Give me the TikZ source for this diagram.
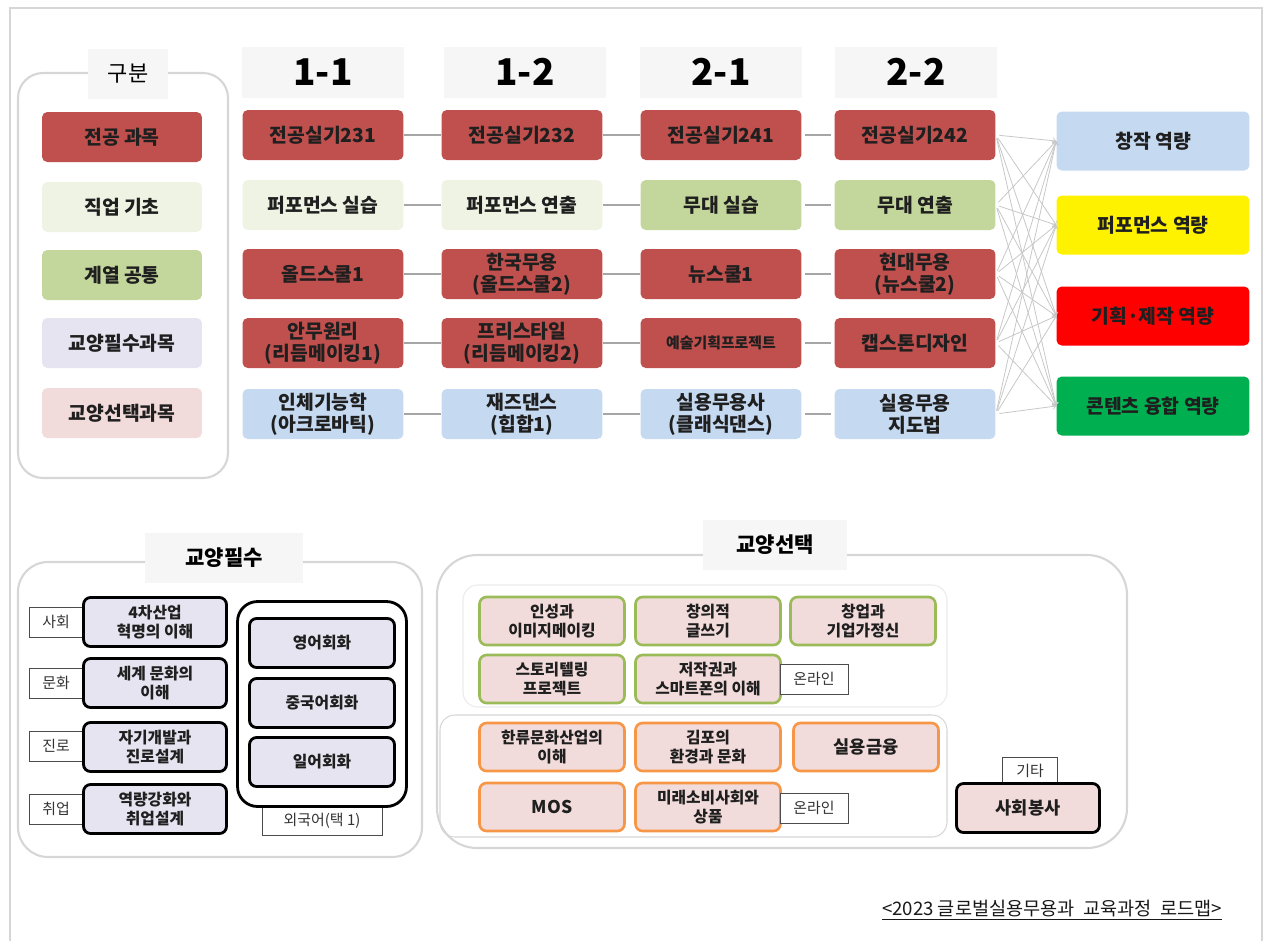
\documentclass[tikz,border=0pt]{standalone}
\usepackage{fontspec}
\setmainfont{Noto Sans CJK KR}
\usetikzlibrary{arrows}
\definecolor{majred}{HTML}{C0504D}
\definecolor{jobcr}{HTML}{EFF3E3}
\definecolor{sergr}{HTML}{C3D69B}
\definecolor{reqpu}{HTML}{E6E4F0}
\definecolor{selpk}{HTML}{F2DCDB}
\definecolor{pracbl}{HTML}{C5D9F1}
\definecolor{ttlbg}{HTML}{F6F6F6}
\definecolor{frmgr}{HTML}{D6D6D6}
\definecolor{lngr}{HTML}{A6A6A6}
\definecolor{olgr}{HTML}{9BBB59}
\definecolor{olor}{HTML}{F79646}
\definecolor{cmpgr}{HTML}{00B050}
\newcommand{\fsz}[1]{\fontsize{#1}{#1}\selectfont}
\tikzset{
  crsnode/.style = {align=center, inner sep=2pt, rounded corners=3pt,
    text=black!88, font=\bfseries\fontsize{11}{12.5}\selectfont},
  crs_r/.style = {crsnode, fill=majred, minimum width=3.22cm, minimum height=1cm},% 전공
  crs_j/.style = {crs_r, fill=jobcr},% 직업 기초
  crs_g/.style = {crs_r, fill=sergr},% 계열 공통
  crs_b/.style = {crs_r, fill=pracbl},
  lg_box/.style = {crsnode, minimum width=3.2cm, minimum height=1cm},
  hd_box/.style = {align=center, fill=ttlbg, minimum width=3.24cm, minimum height=1.02cm,
    font=\bfseries\fsz{21}},
  ttl_box/.style = {align=center, fill=ttlbg, minimum height=1cm, font=\bfseries\fsz{12}},
  cmp_box/.style = {crsnode, minimum width=3.86cm, minimum height=1.18cm},
  grp_frm/.style = {draw=frmgr, line width=1.2pt},
  lnk/.style = {draw=lngr, line width=1pt, shorten <=2pt, shorten >=2pt},
  cmp_ln/.style = {->, draw=black!22, line width=0.45pt, shorten <=2pt},
  tag/.style = {draw=black!70, fill=white, line width=0.4pt, inner sep=1pt,
    font=\fsz{8.5}, text=black!80},
  req_box/.style = {crsnode, draw=black, line width=1.6pt, fill=reqpu, rounded corners=4pt,
    minimum width=2.86cm, minimum height=0.98cm, font=\bfseries\fontsize{9}{11}\selectfont},
  sel_g/.style = {req_box, draw=olgr, line width=1.5pt, fill=selpk, minimum width=2.9cm,
    minimum height=0.96cm},
  sel_o/.style = {sel_g, draw=olor}
}

\begin{document}
\begin{tikzpicture}[x=0.02cm, y=-0.02cm]
\useasboundingbox (0,0) rectangle (1268,941);
\draw[frmgr, line width=0.8pt] (10,941) -- (10,8) -- (1262,8) -- (1262,941);

% 구분
\draw[grp_frm, rounded corners=0.5cm] (18,73) rectangle (228,478);
\node[ttl_box, minimum width=1.6cm, font=\fsz{12.5}] (lgT) at (128,74) {구분};
\node[lg_box, fill=majred] (lg1) at (122,137) {전공 과목};
\node[lg_box, fill=jobcr] (lg2) at (122,207) {직업 기초};
\node[lg_box, fill=sergr] (lg3) at (122,275) {계열 공통};
\node[lg_box, fill=reqpu] (lg4) at (122,343) {교양필수과목};
\node[lg_box, fill=selpk] (lg5) at (122,413) {교양선택과목};

% 학기
\node[hd_box] (h1) at (323,72) {1-1};
\node[hd_box] (h2) at (525,72) {1-2};
\node[hd_box] (h3) at (721,72) {2-1};
\node[hd_box] (h4) at (916,72) {2-2};

\node[crs_r] (a1) at (323,135) {전공실기231};
\node[crs_j] (a2) at (323,205) {퍼포먼스 실습};
\node[crs_r] (a3) at (323,274) {올드스쿨1};
\node[crs_r] (a4) at (323,343) {안무원리\\(리듬메이킹1)};
\node[crs_b] (a5) at (323,414) {인체기능학\\(아크로바틱)};

\node[crs_r] (b1) at (522,135) {전공실기232};
\node[crs_j] (b2) at (522,205) {퍼포먼스 연출};
\node[crs_r] (b3) at (522,274) {한국무용\\(올드스쿨2)};
\node[crs_r] (b4) at (522,343) {프리스타일\\(리듬메이킹2)};
\node[crs_b] (b5) at (522,414) {재즈댄스\\(힙합1)};

\node[crs_r] (c1) at (721,135) {전공실기241};
\node[crs_g] (c2) at (721,205) {무대 실습};
\node[crs_r] (c3) at (721,274) {뉴스쿨1};
\node[crs_r, font=\bfseries\fsz{8.5}] (c4) at (721,343) {예술기획프로젝트};
\node[crs_b] (c5) at (721,414) {실용무용사\\(클래식댄스)};

\node[crs_r] (d1) at (915,135) {전공실기242};
\node[crs_g] (d2) at (915,205) {무대 연출};
\node[crs_r] (d3) at (915,274) {현대무용\\(뉴스쿨2)};
\node[crs_r] (d4) at (915,343) {캡스톤디자인};
\node[crs_b] (d5) at (915,414) {실용무용\\지도법};

\foreach \i in {1,...,5}
  \draw[lnk] (a\i.east) -- (b\i.west) (b\i.east) -- (c\i.west) (c\i.east) -- (d\i.west);

% 역량
\node[cmp_box, fill=pracbl] (k1) at (1153,141) {창작 역량};
\node[cmp_box, fill=yellow] (k2) at (1153,225) {퍼포먼스 역량};
\node[cmp_box, fill=red] (k3) at (1153,316) {기획·제작 역량};
\node[cmp_box, fill=cmpgr] (k4) at (1153,406) {콘텐츠 융합 역량};

\foreach \i in {1,...,5}
  \foreach \j in {1,...,4}
    \draw[cmp_ln] (d\i.east) -- (k\j.west);

% 교양필수
\draw[grp_frm, rounded corners=0.6cm] (18,562) rectangle (422,857);
\node[ttl_box, minimum width=3.16cm] (rqT) at (224,558) {교양필수};

\node[tag, minimum width=1.08cm, minimum height=0.6cm] (sl1) at (56,622) {사회};
\node[tag, minimum width=1.08cm, minimum height=0.6cm] (sl2) at (56,683) {문화};
\node[tag, minimum width=1.08cm, minimum height=0.6cm] (sl3) at (56,746) {진로};
\node[tag, minimum width=1.08cm, minimum height=0.6cm] (sl4) at (56,809) {취업};
\node[req_box] (rq1) at (155,622) {4차산업\\혁명의 이해};
\node[req_box] (rq2) at (155,683) {세계 문화의\\이해};
\node[req_box] (rq3) at (155,747) {자기개발과\\진로설계};
\node[req_box] (rq4) at (155,809) {역량강화와\\취업설계};

\node[tag, minimum width=2.4cm, minimum height=0.56cm] (flT) at (322,821) {외국어(택 1)};
\node[draw=black, line width=1.6pt, rounded corners=0.4cm, minimum width=3.38cm,
  minimum height=4.1cm] (lang) at (322,704) {};
\node[req_box, minimum width=2.9cm] (fl1) at (322,643) {영어회화};
\node[req_box, minimum width=2.9cm] (fl2) at (322,703) {중국어회화};
\node[req_box, minimum width=2.9cm] (fl3) at (322,762) {일어회화};

% 교양선택
\draw[grp_frm, rounded corners=0.8cm] (437,555) rectangle (1127,848);
\node[ttl_box, minimum width=2.9cm] (elT) at (775,545) {교양선택};
\draw[black!8, line width=0.6pt, rounded corners=0.3cm] (463,585) rectangle (947,707);
\draw[frmgr, line width=0.6pt, rounded corners=0.3cm] (440,715) rectangle (947,837);

\node[sel_g] (e1) at (552,621) {인성과\\이미지메이킹};
\node[sel_g] (e2) at (708,621) {창의적\\글쓰기};
\node[sel_g] (e3) at (863,621) {창업과\\기업가정신};
\node[sel_g] (e4) at (552,679) {스토리텔링\\프로젝트};
\node[sel_g] (e5) at (708,679) {저작권과\\스마트폰의 이해};
\node[tag, minimum width=1.36cm, minimum height=0.6cm] (on1) at (814,679) {온라인};

\node[sel_o] (e6) at (552,747) {한류문화산업의\\이해};
\node[sel_o] (e7) at (708,747) {김포의\\환경과 문화};
\node[sel_o, font=\bfseries\fsz{10}] (e8) at (866,747) {실용금융};
\node[sel_o, font=\bfseries\fsz{10}] (e9) at (552,807) {MOS};
\node[sel_o] (e10) at (708,807) {미래소비사회와\\상품};
\node[tag, minimum width=1.36cm, minimum height=0.6cm] (on2) at (814,808) {온라인};

\node[tag, minimum width=1.1cm, minimum height=0.56cm] (etT) at (1030,771) {기타};
\node[req_box, fill=selpk, font=\bfseries\fsz{10}] (et1) at (1028,808) {사회봉사};

\node[font=\fsz{10.6}, text=black!90] (foot) at (1052,910)
  {\underline{<2023 글로벌실용무용과 \ 교육과정 \ 로드맵>}};
\end{tikzpicture}
\end{document}
